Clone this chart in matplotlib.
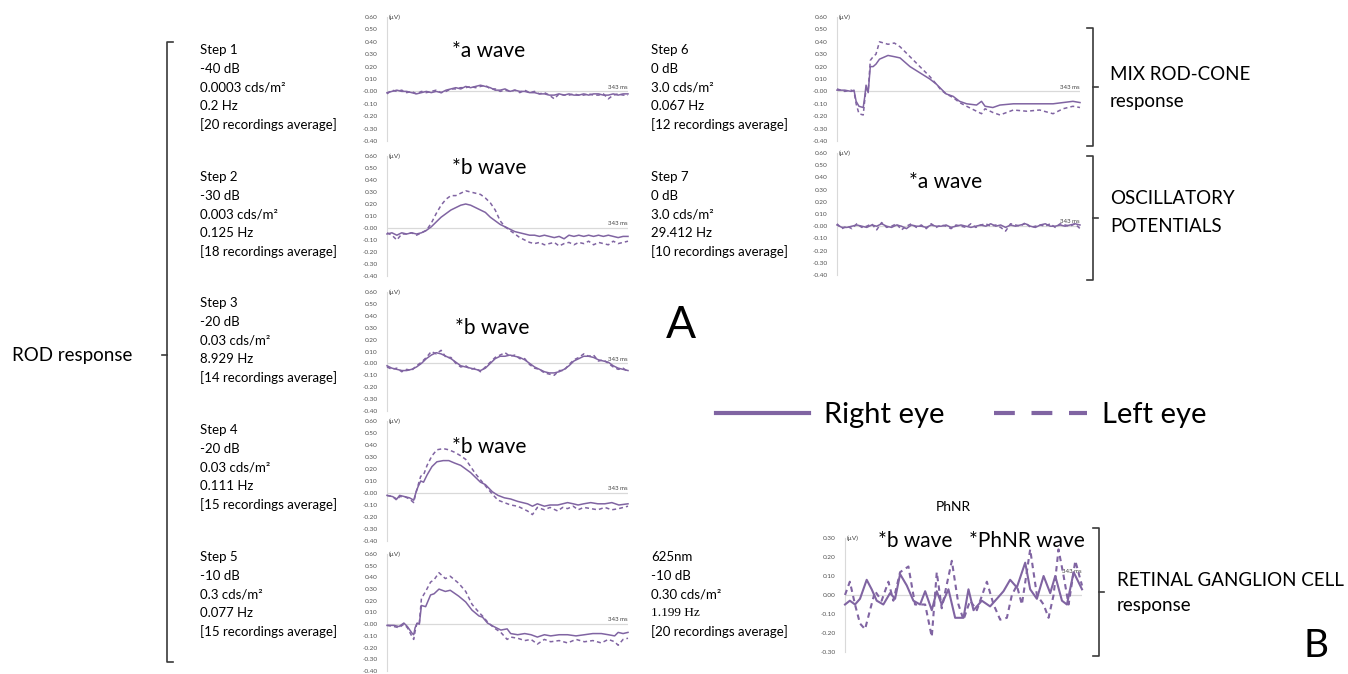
import matplotlib
matplotlib.use('Agg')
import matplotlib.pyplot as plt
from matplotlib.lines import Line2D
import numpy as np

plt.rcParams['font.family'] = ['Lato', 'DejaVu Sans']
plt.rcParams['axes.unicode_minus'] = False

# ---- data (µV, time in ms) ----
t_even = np.linspace(0, 343, 50)

step1_right = [-0.01, 0.00, 0.01, 0.00, 0.00, -0.01, -0.02, -0.01, 0.00, -0.01,
               0.00, -0.01, 0.01, 0.02, 0.03, 0.02, 0.04, 0.03, 0.04, 0.05,
               0.04, 0.03, 0.01, 0.01, 0.02, 0.00, 0.01, 0.00, 0.00, -0.01,
               -0.01, -0.02, -0.02, -0.03, -0.03, -0.02, -0.03, -0.02, -0.03, -0.03,
               -0.02, -0.03, -0.02, -0.02, -0.03, -0.03, -0.02, -0.03, -0.02, -0.02]
step1_left = [-0.02, 0.01, 0.00, 0.01, -0.01, 0.00, -0.02, 0.00, -0.01, 0.00,
              0.01, -0.01, 0.00, 0.02, 0.02, 0.03, 0.03, 0.04, 0.03, 0.04,
              0.05, 0.02, 0.02, 0.00, 0.01, 0.00, 0.01, -0.01, 0.01, -0.01,
              0.00, -0.02, -0.01, -0.03, -0.06, -0.02, -0.03, -0.03, -0.02, -0.03,
              -0.03, -0.02, -0.03, -0.03, -0.02, -0.06, -0.03, -0.02, -0.03, -0.03]

step2_right = [-0.05, -0.04, -0.06, -0.04, -0.05, -0.04, -0.05, -0.04, -0.02, 0.01,
               0.05, 0.09, 0.12, 0.15, 0.17, 0.19, 0.20, 0.19, 0.17, 0.15,
               0.13, 0.09, 0.06, 0.03, 0.01, -0.01, -0.03, -0.04, -0.05, -0.06,
               -0.06, -0.07, -0.06, -0.07, -0.08, -0.07, -0.09, -0.06, -0.07, -0.06,
               -0.07, -0.06, -0.07, -0.06, -0.07, -0.06, -0.07, -0.08, -0.07, -0.07]
step2_left = [-0.04, -0.06, -0.10, -0.05, -0.05, -0.04, -0.06, -0.04, -0.02, 0.04,
              0.12, 0.19, 0.24, 0.27, 0.27, 0.29, 0.31, 0.30, 0.29, 0.28,
              0.25, 0.21, 0.15, 0.06, 0.01, -0.02, -0.05, -0.08, -0.10, -0.12,
              -0.13, -0.12, -0.14, -0.13, -0.12, -0.15, -0.13, -0.12, -0.14, -0.12,
              -0.13, -0.11, -0.14, -0.12, -0.13, -0.14, -0.11, -0.13, -0.12, -0.11]

step3_right = [-0.02, -0.04, -0.05, -0.06, -0.06, -0.05, -0.03, 0.00, 0.04, 0.07,
               0.09, 0.08, 0.06, 0.04, 0.01, -0.02, -0.03, -0.04, -0.05, -0.06,
               -0.04, 0.00, 0.04, 0.06, 0.06, 0.07, 0.06, 0.05, 0.03, 0.00,
               -0.03, -0.05, -0.07, -0.08, -0.08, -0.07, -0.05, -0.02, 0.02, 0.04,
               0.06, 0.06, 0.05, 0.03, 0.02, 0.01, -0.02, -0.04, -0.05, -0.06]
step3_left = [-0.03, -0.05, -0.04, -0.07, -0.05, -0.06, -0.02, 0.01, 0.05, 0.10,
              0.08, 0.11, 0.05, 0.05, 0.00, -0.03, -0.02, -0.05, -0.04, -0.07,
              -0.03, 0.01, 0.05, 0.07, 0.09, 0.06, 0.07, 0.04, 0.04, -0.01,
              -0.04, -0.05, -0.08, -0.09, -0.10, -0.06, -0.06, -0.01, 0.03, 0.05,
              0.08, 0.06, 0.07, 0.02, 0.03, 0.00, -0.03, -0.05, -0.04, -0.07]

t_step4 = [0, 8, 14, 18, 25, 32, 38, 41, 44, 48, 52, 57, 64, 71, 80, 88, 96, 105, 112, 119,
           126, 133, 140, 150, 158, 167, 176, 186, 193, 200, 207, 214, 224, 232, 243, 250,
           257, 265, 272, 280, 290, 300, 310, 320, 330, 343]
step4_right = [-0.02, -0.03, -0.05, -0.02, -0.03, -0.04, -0.06, 0.00, 0.05, 0.10,
               0.09, 0.15, 0.22, 0.26, 0.27, 0.27, 0.25, 0.23, 0.20, 0.17,
               0.13, 0.09, 0.07, 0.01, -0.02, -0.04, -0.05, -0.07, -0.08, -0.09,
               -0.11, -0.09, -0.11, -0.10, -0.10, -0.09, -0.08, -0.09, -0.10, -0.09,
               -0.08, -0.09, -0.09, -0.08, -0.10, -0.09]
step4_left = [-0.02, -0.03, -0.06, -0.03, -0.03, -0.05, -0.08, 0.00, 0.06, 0.14,
              0.15, 0.23, 0.31, 0.36, 0.37, 0.36, 0.34, 0.31, 0.28, 0.22,
              0.16, 0.11, 0.06, -0.01, -0.06, -0.08, -0.10, -0.11, -0.13, -0.15,
              -0.18, -0.12, -0.14, -0.12, -0.15, -0.12, -0.13, -0.11, -0.14, -0.12,
              -0.13, -0.14, -0.12, -0.14, -0.13, -0.11]

t_step5 = [0, 10, 17, 24, 29, 36, 38, 40, 43, 46, 49, 55, 62, 67, 74, 83, 90, 102, 112, 121,
           131, 136, 143, 152, 162, 171, 176, 186, 196, 205, 214, 224, 233, 245, 257, 269,
           281, 293, 305, 315, 324, 329, 336, 343]
step5_right = [-0.01, -0.01, -0.02, 0.01, -0.02, -0.08, -0.09, -0.03, 0.01, 0.00,
               0.16, 0.15, 0.25, 0.26, 0.30, 0.28, 0.29, 0.24, 0.19, 0.12,
               0.07, 0.06, 0.01, -0.02, -0.05, -0.04, -0.08, -0.09, -0.08, -0.09,
               -0.11, -0.09, -0.10, -0.09, -0.09, -0.10, -0.09, -0.08, -0.08, -0.09,
               -0.10, -0.07, -0.08, -0.07]
step5_left = [-0.01, -0.02, -0.03, 0.00, -0.03, -0.11, -0.13, -0.06, 0.02, 0.01,
              0.22, 0.28, 0.36, 0.38, 0.44, 0.39, 0.41, 0.35, 0.28, 0.17,
              0.10, 0.07, 0.02, -0.03, -0.07, -0.13, -0.11, -0.12, -0.14, -0.13,
              -0.17, -0.13, -0.15, -0.14, -0.16, -0.13, -0.15, -0.14, -0.16, -0.13,
              -0.15, -0.18, -0.13, -0.12]

t_step6 = [0, 11, 20, 24, 27, 31, 37, 39, 41, 44, 47, 51, 55, 60, 72, 81, 89, 103, 117, 131,
           140, 147, 154, 164, 173, 183, 197, 204, 209, 220, 230, 249, 268, 286, 305, 319,
           333, 343]
step6_right = [0.01, 0.01, 0.00, 0.01, -0.08, -0.12, -0.13, -0.05, 0.05, -0.01,
               0.20, 0.20, 0.22, 0.26, 0.29, 0.28, 0.27, 0.20, 0.15, 0.10,
               0.06, 0.02, -0.02, -0.04, -0.08, -0.10, -0.11, -0.08, -0.12, -0.13,
               -0.11, -0.10, -0.10, -0.10, -0.10, -0.09, -0.08, -0.09]
step6_left = [0.02, 0.00, 0.01, 0.00, -0.10, -0.18, -0.19, -0.08, 0.02, 0.00,
              0.25, 0.28, 0.30, 0.40, 0.38, 0.39, 0.36, 0.28, 0.20, 0.12,
              0.06, 0.01, -0.02, -0.05, -0.09, -0.12, -0.16, -0.18, -0.14, -0.17,
              -0.19, -0.15, -0.16, -0.15, -0.18, -0.14, -0.12, -0.13]

step7_right = [0.01, -0.01, -0.01, 0.00, 0.01, 0.00, -0.01, 0.01, 0.00, 0.02,
               0.00, -0.01, 0.01, 0.00, -0.02, 0.01, 0.00, 0.00, -0.01, 0.01,
               0.00, 0.00, 0.01, -0.01, 0.00, 0.01, 0.00, -0.01, 0.00, 0.01,
               0.00, 0.02, 0.00, 0.01, -0.01, 0.01, 0.00, 0.01, 0.02, 0.00,
               -0.01, 0.01, 0.02, 0.00, 0.00, 0.01, 0.00, 0.01, 0.02, 0.01]
step7_left = [0.02, -0.02, 0.00, -0.02, 0.02, -0.01, 0.00, 0.02, -0.03, 0.03,
              -0.01, 0.00, 0.02, -0.03, 0.00, 0.02, -0.01, 0.01, -0.02, 0.02,
              -0.01, 0.01, 0.00, -0.02, 0.01, 0.00, -0.01, 0.02, -0.01, 0.01,
              0.02, 0.00, 0.01, -0.01, -0.04, 0.02, 0.01, 0.00, 0.03, -0.01,
              0.00, 0.01, 0.00, 0.02, -0.01, 0.02, 0.01, 0.00, 0.02, -0.02]

t_phnr_right = [0, 7, 14.5, 21.7, 31.4, 38.6, 45.9, 55.5, 65.2, 72.5, 79.7, 89.4, 99, 108.7,
                116, 125.6, 132.8, 140, 149.7, 159.4, 171.5, 178.7, 186, 198, 210, 219.8,
                229.4, 239, 248.7, 260.8, 268, 277.7, 287.4, 297, 304.3, 314, 321.2, 330.9, 343]
phnr_right = [-0.05, -0.03, -0.05, -0.02, 0.08, 0.03, -0.03, -0.05, 0.01, -0.02,
              0.11, 0.05, -0.03, -0.05, 0.02, -0.08, 0.02, -0.05, 0.03, -0.12,
              -0.12, 0.03, -0.08, -0.03, -0.06, -0.02, 0.02, 0.08, 0.04, 0.17,
              0.03, -0.02, 0.10, 0.01, 0.10, -0.03, -0.05, 0.12, 0.03]
t_phnr_left = [0, 7, 14.5, 21.7, 29, 36.2, 43.5, 53, 62.8, 70, 79.7, 91.8, 101.4, 116, 125.6,
               132.8, 140, 154.6, 164.2, 171.5, 181, 190.8, 205.3, 215, 224.6, 234.3, 241.5,
               248.7, 256, 268, 277.7, 287.4, 294.6, 301.9, 309, 316.4, 323.6, 333.3, 343]
phnr_left = [0.00, 0.07, -0.05, -0.15, -0.18, -0.08, 0.02, -0.03, 0.07, -0.03,
             0.12, 0.15, -0.05, -0.05, -0.22, 0.12, -0.07, 0.18, -0.05, -0.13,
             -0.03, -0.08, 0.07, -0.05, -0.13, -0.12, 0.00, 0.05, -0.05, 0.24,
             0.00, -0.05, -0.12, 0.00, 0.24, 0.10, -0.05, 0.18, 0.05]

step_info = [
    ['Step 1', '-40 dB', '0.0003 cds/m²', '0.2 Hz', '[20 recordings average]'],
    ['Step 2', '-30 dB', '0.003 cds/m²', '0.125 Hz', '[18 recordings average]'],
    ['Step 3', '-20 dB', '0.03 cds/m²', '8.929 Hz', '[14 recordings average]'],
    ['Step 4', '-20 dB', '0.03 cds/m²', '0.111 Hz', '[15 recordings average]'],
    ['Step 5', '-10 dB', '0.3 cds/m²', '0.077 Hz', '[15 recordings average]'],
    ['Step 6', '0 dB', '3.0 cds/m²', '0.067 Hz', '[12 recordings average]'],
    ['Step 7', '0 dB', '3.0 cds/m²', '29.412 Hz', '[10 recordings average]'],
    ['625nm', '-10 dB', '0.30 cds/m²', '1.199 Hz', '[20 recordings average]'],
]

PURPLE = '#8064A2'
GRID = '#d9d9d9'
W, H = 1348, 674

fig = plt.figure(figsize=(W / 100, H / 100), dpi=100, facecolor='white')

# overlay in pixel coordinates for text and brackets
ov = fig.add_axes([0, 0, 1, 1])
ov.set_xlim(0, W)
ov.set_ylim(H, 0)
ov.axis('off')


def panel(x0, x1, ytop, ybot, lo, hi, step, ms_y):
    ax = fig.add_axes([x0 / W, 1 - ybot / H, (x1 - x0) / W, (ybot - ytop) / H])
    ax.patch.set_alpha(0)
    ax.set_xlim(0, 343)
    ax.set_ylim(lo, hi)
    for s in ['top', 'right', 'bottom']:
        ax.spines[s].set_visible(False)
    ax.spines['left'].set_color(GRID)
    ax.spines['left'].set_linewidth(0.8)
    ax.set_xticks([])
    ax.set_yticks(np.round(np.arange(lo, hi + 1e-9, step), 2))
    ax.yaxis.set_major_formatter(matplotlib.ticker.FormatStrFormatter('%.2f'))
    ax.tick_params(axis='y', length=0, labelsize=4.6, labelcolor='#505050', pad=7)
    ax.axhline(0, color=GRID, lw=0.9, zorder=1)
    ax.text(3, hi, '(µV)', fontsize=4.6, color='#404040', ha='left', va='center')
    ax.text(343, ms_y, '343 ms', fontsize=4.3, color='#404040', ha='right', va='bottom')
    return ax


def traces(ax, t_r, right, t_l, left, lw=1.1):
    ax.plot(t_r, right, color=PURPLE, lw=lw, zorder=3, clip_on=False)
    ax.plot(t_l, left, color=PURPLE, lw=lw, ls=(0, (2.6, 2.0)), zorder=3, clip_on=False)


left_panels = [(17, 141), (156, 276), (292, 411), (421, 541), (554, 671)]
left_data = [(t_even, step1_right, t_even, step1_left),
             (t_even, step2_right, t_even, step2_left),
             (t_even, step3_right, t_even, step3_left),
             (t_step4, step4_right, t_step4, step4_left),
             (t_step5, step5_right, t_step5, step5_left)]
for (yt, yb), d in zip(left_panels, left_data):
    ax = panel(387, 628, yt, yb, -0.4, 0.6, 0.1, 0.015)
    traces(ax, *d)

ax6 = panel(837, 1080, 17, 141, -0.4, 0.6, 0.1, 0.015)
traces(ax6, t_step6, step6_right, t_step6, step6_left)
ax7 = panel(837, 1080, 153, 275, -0.4, 0.6, 0.1, 0.015)
traces(ax7, t_even, step7_right, t_even, step7_left)
axp = panel(845, 1082, 538, 652, -0.3, 0.3, 0.1, 0.11)
traces(axp, t_phnr_right, phnr_right, t_phnr_left, phnr_left, lw=1.5)

# wave labels
for x, y, s in [(489, 51, '*a wave'), (489, 168, '*b wave'), (492, 328, '*b wave'),
                (489, 447, '*b wave'), (946, 182, '*a wave'),
                (915, 541, '*b wave'), (1027, 541, '*PhNR wave')]:
    ov.text(x, y, s, fontsize=15, ha='center', va='center')
ov.text(953, 507, 'PhNR', fontsize=10, ha='center', va='center')

# step descriptions
step_pos = [(200, 50), (200, 177), (200, 303), (200, 430), (200, 557),
            (651, 50), (651, 177), (651, 557)]
for (x, y), lines in zip(step_pos, step_info):
    for k, s in enumerate(lines):
        fam = ['Liberation Serif'] if s == '1.199 Hz' else ['Lato', 'DejaVu Sans']
        ov.text(x, y + k * 18.7, s, fontsize=9.5, ha='left', va='center', family=fam)

# group labels
ov.text(12, 355, 'ROD response', fontsize=13.5, ha='left', va='center')
ov.text(1110, 75, 'MIX ROD-CONE', fontsize=13.5, ha='left', va='center')
ov.text(1110, 101, 'response', fontsize=13.5, ha='left', va='center')
ov.text(1110, 199, 'OSCILLATORY', fontsize=13.5, ha='left', va='center')
ov.text(1110, 227, 'POTENTIALS', fontsize=13.5, ha='left', va='center')
ov.text(1117, 580, 'RETINAL GANGLION CELL', fontsize=13.5, ha='left', va='center')
ov.text(1117, 606, 'response', fontsize=13.5, ha='left', va='center')
ov.text(681, 325, 'A', fontsize=32, ha='center', va='center')
ov.text(1316, 646, 'B', fontsize=28, ha='center', va='center')

# brackets
BK = '#3a3a3a'


def bracket(x, top, bot, mid, side):
    # side = +1: hooks point right, notch left ; -1 opposite
    ov.plot([x + 6 * side, x, x, x + 6 * side], [top, top, bot, bot], color=BK, lw=1.2,
            solid_joinstyle='round')
    ov.plot([x, x - 5 * side], [mid, mid], color=BK, lw=1.2)


bracket(167, 42, 662, 355, 1)
bracket(1093, 28, 146, 87, -1)
bracket(1093, 156, 280, 218, -1)
bracket(1099, 528, 656, 592, -1)

# legend
handles = [Line2D([], [], color=PURPLE, lw=3),
           Line2D([], [], color=PURPLE, lw=3, ls=(0, (5, 4)))]
fig.legend(handles, ['Right eye', 'Left eye'], loc='center', ncol=2, frameon=False,
           bbox_to_anchor=(961 / W, 1 - 415 / H), fontsize=21, handlelength=3.2,
           handletextpad=0.5, columnspacing=1.7)

fig.savefig('out.png', dpi=100, facecolor='white')
